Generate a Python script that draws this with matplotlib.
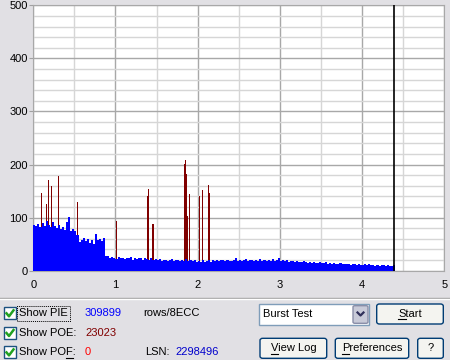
import numpy as np
import matplotlib.pyplot as plt
from matplotlib.patches import Rectangle, FancyBboxPatch
from matplotlib.lines import Line2D

W, H = 450, 360

# PIE per 0.025 step, from 0 to 4.4
pie_step = 0.025
pie_values = [
    86, 84, 88, 82, 90, 84, 93, 86, 82, 91, 85, 80, 86, 78, 83, 76,
    92, 101, 75, 78, 74, 68, 55, 58, 62, 56, 60, 53, 57, 50, 70, 58,
    60, 56, 61, 27, 27, 24, 25, 23, 22, 25, 23, 24, 22, 24, 23, 25,
    21, 24, 22, 23, 24, 21, 23, 22, 21, 23, 20, 22, 20, 22, 19, 21,
    21, 19, 20, 22, 19, 21, 20, 18, 21, 19, 22, 18, 20, 18, 21, 17,
    19, 17, 20, 16, 18, 20, 17, 21, 19, 21, 18, 20, 20, 18, 21, 19,
    18, 20, 23, 19, 21, 19, 20, 22, 19, 21, 20, 18, 20, 19, 22, 18,
    21, 19, 20, 18, 22, 19, 21, 23, 19, 20, 18, 21, 17, 19, 18, 16,
    18, 16, 17, 19, 16, 15, 17, 14, 16, 14, 15, 17, 15, 14, 16, 13,
    14, 13, 15, 12, 13, 14, 12, 13, 12, 13, 11, 12, 13, 11, 12, 10,
    11, 12, 10, 13, 10, 11, 9, 11, 9, 10, 11, 9, 10, 9, 8, 10,
]

# POE spikes
poe_pos = [0.097, 0.158, 0.182, 0.219, 0.304, 0.534, 1.007, 1.384, 1.396,
           1.456, 1.845, 1.857, 1.869, 1.881, 1.905, 2.027, 2.063, 2.136, 2.148]
poe_values = [147, 126, 171, 160, 178, 129, 94, 141, 154,
              88, 201, 208, 182, 103, 145, 141, 152, 161, 147]

end_pos = 4.39
x_ticks = [0, 1, 2, 3, 4, 5]
y_ticks = [0, 100, 200, 300, 400, 500]

pie_total = "309899"
poe_total = "23023"
pof_total = "0"
lsn_value = "2298496"

bg = '#e1e0e4'
ui_font = 'Liberation Sans'


def fx(px):
    return px / W


def fy(py):
    return 1 - py / H


fig = plt.figure(figsize=(4.5, 3.6), dpi=100, facecolor=bg)
ax = fig.add_axes([fx(33.3), fy(270.7), (444.3 - 33.3) / W, (270.7 - 5.3) / H])
ax.set_facecolor('white')

centers = np.arange(len(pie_values)) * pie_step + pie_step / 2
ax.bar(poe_pos, poe_values, width=0.013, color='#800000', linewidth=0, zorder=3)
ax.bar(centers, pie_values, width=pie_step, color='#0000ff', linewidth=0, zorder=4)
ax.axvline(end_pos, color='black', lw=1.2, zorder=5)

ax.set_xlim(0, 5)
ax.set_ylim(0, 500)
ax.set_xticks(x_ticks)
ax.set_yticks(y_ticks)
ax.set_xticks(np.arange(0, 5.01, 0.5), minor=True)
ax.set_yticks(np.arange(0, 501, 20), minor=True)
ax.grid(which='minor', color='#d6d6d6', lw=1, zorder=0)
ax.grid(which='major', color='#a8a8a8', lw=1, zorder=1)
ax.tick_params(axis='y', which='major', length=3, color='#a0a0a0', pad=1, labelsize=8)
ax.tick_params(axis='x', which='major', length=0, pad=7, labelsize=8)
ax.tick_params(which='minor', length=0)
for lab in ax.get_xticklabels() + ax.get_yticklabels():
    lab.set_fontfamily(ui_font)
for s in ax.spines.values():
    s.set_color('#a8a8a8')

# separator
fig.add_artist(Line2D([0, 1], [fy(297.5), fy(297.5)], color='#a0a0a0', lw=1))
fig.add_artist(Line2D([0, 1], [fy(298.5), fy(298.5)], color='white', lw=1))

renderer = fig.canvas.get_renderer()


def text_width(s):
    t = fig.text(0, 0, s, fontsize=8, fontfamily=ui_font)
    w = t.get_window_extent(renderer).width
    t.remove()
    return w


def checkbox(y):
    fig.add_artist(Rectangle((fx(3.5), fy(y + 6)), 12.5 / W, 12.5 / H,
                             facecolor='white', edgecolor='#1c5180', lw=1))
    xs = [fx(6.5), fx(9), fx(13.5)]
    ys = [fy(y), fy(y + 3), fy(y - 3)]
    fig.add_artist(Line2D(xs, ys, color='#21a121', lw=1.8))


def label(x, y, s, color='black', ha='left', ul=None):
    fig.text(fx(x), fy(y), s, color=color, ha=ha, va='center',
             fontsize=8, fontfamily=ui_font)
    if ul is not None:
        # underline one character (index ul) as an access key
        full = text_width(s)
        left = x - full / 2 if ha == 'center' else x
        x0 = left + (text_width(s[:ul]) if ul else 0)
        x1 = left + text_width(s[:ul + 1])
        fig.add_artist(Line2D([fx(x0), fx(x1)], [fy(y + 5.2), fy(y + 5.2)],
                              color='black', lw=0.8))


rows = [313.3, 333, 352.4]
for r in rows:
    checkbox(r)

label(19, rows[0], 'Show PIE')
fig.add_artist(Rectangle((fx(17), fy(320.7)), 53 / W, 15 / H, fill=False,
                         edgecolor='black', lw=0.7, linestyle=(0, (1, 1))))
label(85, rows[0], pie_total, '#0000ff')
label(143, rows[0], 'rows/8ECC')
label(19, rows[1], 'Show POE:')
label(85, rows[1], poe_total, '#800000')
label(19, rows[2], 'Show POF:', ul=7)
label(85, rows[2], pof_total, '#ff0000')
label(145, rows[2], 'LSN:')
label(175, rows[2], lsn_value, '#0000cc')

# combo box
fig.add_artist(Rectangle((fx(259.3), fy(324.7)), 110 / W, 20.7 / H,
                         facecolor='white', edgecolor='#7f9db9', lw=1))
label(263, 314.3, 'Burst Test')
fig.add_artist(FancyBboxPatch((fx(353), fy(323.3)), 15 / W, 17.6 / H,
                              boxstyle='round,pad=0,rounding_size=0.004',
                              facecolor='#c8cad8', edgecolor='#8a8ea8', lw=1))
fig.add_artist(Line2D([fx(357.5), fx(360.5), fx(363.5)],
                      [fy(312.5), fy(315.5), fy(312.5)], color='#30305a', lw=1.6))


def button(x0, y0, x1, y1, text, ul):
    fig.add_artist(FancyBboxPatch((fx(x0), fy(y1)), (x1 - x0) / W, (y1 - y0) / H,
                                  boxstyle='round,pad=0,rounding_size=0.006',
                                  facecolor='#f4f4f0', edgecolor='#003c74', lw=1))
    label((x0 + x1) / 2, (y0 + y1) / 2, text, ha='center', ul=ul)


button(376.7, 304, 443.3, 324, 'Start', 0)
button(260, 338.3, 326.7, 358.3, 'View Log', 0)
button(335.3, 338.3, 408.7, 358.3, 'Preferences', 0)
button(417.7, 338.3, 443.3, 358.3, '?', None)

fig.savefig('out.png', dpi=100, facecolor=bg)
